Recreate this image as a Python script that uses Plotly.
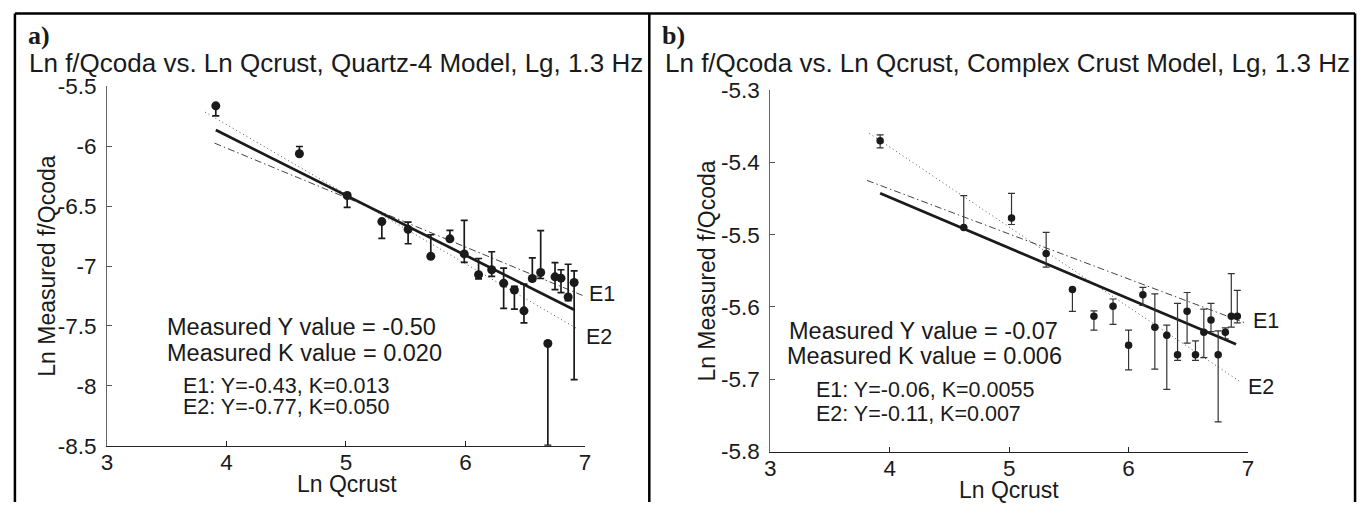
import plotly.graph_objects as go

W, H = 1369, 515

# ---- panel a: Quartz-4 model ----
A_X = [3.91, 4.61, 5.01, 5.30, 5.52, 5.71, 5.87, 5.99, 6.11, 6.22,
       6.32, 6.41, 6.49, 6.56, 6.63, 6.69, 6.75, 6.80, 6.86, 6.91]
A_Y = [-5.664, -6.063, -6.412, -6.629, -6.694, -6.919, -6.773, -6.899, -7.072, -7.031,
       -7.144, -7.200, -7.374, -7.104, -7.054, -7.646, -7.090, -7.101, -7.258, -7.137]
A_ERR_UP = [0.0, 0.06, 0.0, 0.0, 0.06, 0.18, 0.07, 0.28, 0.135, 0.15,
            0.127, 0.03, 0.223, 0.172, 0.35, 0.0, 0.119, 0.07, 0.273, 0.097]
A_ERR_DN = [0.084, 0.0, 0.098, 0.14, 0.12, 0.0, 0.0, 0.07, 0.035, 0.055,
            0.21, 0.16, 0.10, 0.02, 0.05, 0.85, 0.106, 0.12, 0.03, 0.81]
A_Y_MEAS, A_K_MEAS = -0.50, 0.020
A_FIT_X = [3.91, 6.91]
A_FIT_B = -3.910
A_E1_X, A_E1_Y = [3.90, 6.98], [-5.975, -7.245]
A_E2_X, A_E2_Y = [3.82, 6.93], [-5.716, -7.52]

# ---- panel b: Complex Crust model ----
B_X = [3.92, 4.62, 5.02, 5.31, 5.53, 5.71, 5.87, 6.00, 6.12, 6.22,
       6.32, 6.41, 6.49, 6.56, 6.63, 6.69, 6.75, 6.81, 6.86, 6.91]
B_Y = [-5.370, -5.490, -5.477, -5.526, -5.576, -5.613, -5.599, -5.653, -5.583, -5.628,
       -5.639, -5.666, -5.606, -5.666, -5.635, -5.618, -5.666, -5.635, -5.613, -5.613]
B_ERR_UP = [0.008, 0.044, 0.034, 0.029, 0.0, 0.0075, 0.010, 0.021, 0.010, 0.046,
            0.014, 0.071, 0.026, 0.019, 0.032, 0.023, 0.033, 0.006, 0.059, 0.036]
B_ERR_DN = [0.010, 0.0, 0.009, 0.019, 0.030, 0.019, 0.025, 0.034, 0.015, 0.058,
            0.075, 0.008, 0.044, 0.008, 0.035, 0.016, 0.093, 0.009, 0.015, 0.009]
B_Y_MEAS, B_K_MEAS = -0.07, 0.006
B_FIT_X = [3.92, 6.90]
B_FIT_B = -5.1685
B_E1_X, B_E1_Y = [3.81, 6.975], [-5.425, -5.622]
B_E2_X, B_E2_Y = [3.83, 6.93], [-5.360, -5.703]

X_TICKS = [3, 4, 5, 6, 7]
A_Y_TICKS = [-8.5, -8, -7.5, -7, -6.5, -6, -5.5]
A_Y_TEXT = ["-8.5", "-8", "-7.5", "-7", "-6.5", "-6", "-5.5"]
B_Y_TICKS = [-5.8, -5.7, -5.6, -5.5, -5.4, -5.3]
B_Y_TEXT = ["-5.8", "-5.7", "-5.6", "-5.5", "-5.4", "-5.3"]

FONT = "Liberation Sans, Arial, sans-serif"
SERIF = "Liberation Serif, Times New Roman, serif"
INK = "#1a1a1a"


def px(x):
    return x / W


def py(y):
    return 1 - y / H


fig = go.Figure()


def add_panel(xa, ya, xs, ys, up, dn, msize, ethick, ecolor, fit_x, slope, icpt,
              e1x, e1y, e2x, e2y, fitw):
    fit_y = [icpt + slope * v for v in fit_x]
    fig.add_trace(go.Scatter(x=e2x, y=e2y, mode="lines", xaxis=xa, yaxis=ya,
                             line=dict(color="#555", width=1, dash="1px,3px"),
                             showlegend=False, hoverinfo="skip"))
    fig.add_trace(go.Scatter(x=e1x, y=e1y, mode="lines", xaxis=xa, yaxis=ya,
                             line=dict(color="#444", width=1, dash="7px,3px,1.5px,3px"),
                             showlegend=False, hoverinfo="skip"))
    fig.add_trace(go.Scatter(x=fit_x, y=fit_y, mode="lines", xaxis=xa, yaxis=ya,
                             line=dict(color=INK, width=fitw),
                             showlegend=False, hoverinfo="skip"))
    fig.add_trace(go.Scatter(x=xs, y=ys, mode="markers", xaxis=xa, yaxis=ya,
                             marker=dict(color=INK, size=msize),
                             error_y=dict(type="data", symmetric=False, array=up,
                                          arrayminus=dn, color=ecolor,
                                          thickness=ethick, width=3.5),
                             cliponaxis=False, showlegend=False))


add_panel("x", "y", A_X, A_Y, A_ERR_UP, A_ERR_DN, 9, 1.7, INK, A_FIT_X, A_Y_MEAS, A_FIT_B,
          A_E1_X, A_E1_Y, A_E2_X, A_E2_Y, 2.7)
add_panel("x2", "y2", B_X, B_Y, B_ERR_UP, B_ERR_DN, 7.5, 1.2, "#333", B_FIT_X, B_Y_MEAS,
          B_FIT_B, B_E1_X, B_E1_Y, B_E2_X, B_E2_Y, 2.7)

tick_font = dict(family=FONT, size=22.5, color=INK)
x_common = dict(showgrid=False, zeroline=False, showline=True, linecolor="#222",
                linewidth=1, ticks="inside", ticklen=5, tickcolor="#222",
                tickfont=tick_font, range=[3, 7], tickvals=X_TICKS,
                ticklabelstandoff=-4)
y_common = dict(showgrid=False, zeroline=False, showline=True, linecolor="#666",
                linewidth=1, ticks="inside", ticklen=5, tickcolor="#555",
                tickfont=tick_font, ticklabelstandoff=5)

fig.update_layout(
    width=W, height=H, margin=dict(l=0, r=0, t=0, b=0),
    paper_bgcolor="white", plot_bgcolor="white", showlegend=False,
    xaxis=dict(domain=[px(102), px(584)], anchor="y", **x_common),
    yaxis=dict(domain=[py(456), py(78)], range=[-8.5, -5.5], tickvals=A_Y_TICKS,
               ticktext=A_Y_TEXT, anchor="x", **y_common),
    xaxis2=dict(domain=[px(771), px(1253)], anchor="y2", **x_common),
    yaxis2=dict(domain=[py(462), py(82)], range=[-5.8, -5.3], tickvals=B_Y_TICKS,
                ticktext=B_Y_TEXT, anchor="x2", **y_common),
)


def note(text, x, y, size, xanchor="left", angle=0, family=FONT, bold=False):
    if bold:
        text = "<b>" + text + "</b>"
    fig.add_annotation(text=text, x=px(x), y=py(y), xref="paper", yref="paper",
                       xanchor=xanchor, yanchor="middle", showarrow=False,
                       textangle=angle, font=dict(family=family, size=size, color=INK))


# panel a texts
note("a)", 20, 25, 26, family=SERIF, bold=True)
note("Ln f/Qcoda vs. Ln Qcrust, Quartz-4 Model, Lg, 1.3 Hz", 21, 54, 26)
note("Ln Measured f/Qcoda", 41, 267, 23, xanchor="center", angle=-90)
note("Ln Qcrust", 344, 496, 23, xanchor="center")
note("Measured Y value = %.2f" % A_Y_MEAS, 160, 331, 23.5)
note("Measured K value = %.3f" % A_K_MEAS, 160, 358, 23.5)
note("E1: Y=-0.43, K=0.013", 177, 393, 21.5)
note("E2: Y=-0.77, K=0.050", 177, 415, 21.5)
note("E1", 586, 296, 21.5)
note("E2", 583, 342, 21.5)

# panel b texts
note("b)", 660, 25, 26, family=SERIF, bold=True)
note("Ln f/Qcoda vs. Ln Qcrust, Complex Crust Model, Lg, 1.3 Hz", 663, 54, 26)
note("Ln Measured f/Qcoda", 707, 272, 23, xanchor="center", angle=-90)
note("Ln Qcrust", 1012, 502, 23, xanchor="center")
note("Measured Y value = %.2f" % B_Y_MEAS, 788, 335, 23.5)
note("Measured K value = %.3f" % B_K_MEAS, 786, 362, 23.5)
note("E1: Y=-0.06, K=0.0055", 815, 397, 21.5)
note("E2: Y=-0.11, K=0.007", 815, 422, 21.5)
note("E1", 1256, 325, 21.5)
note("E2", 1251, 394, 21.5)

# frame around the two panels (open at the bottom)
frame = dict(type="line", xref="paper", yref="paper", line=dict(color="black", width=2.5))
fig.add_shape(x0=px(9), x1=px(1361), y0=py(1.5), y1=py(1.5), **frame)
fig.add_shape(x0=px(9), x1=px(9), y0=py(1.5), y1=0, **frame)
fig.add_shape(x0=px(649), x1=px(649), y0=py(1.5), y1=0, **frame)
fig.add_shape(x0=px(1361), x1=px(1361), y0=py(1.5), y1=0, **frame)

fig.write_html("out.html")
